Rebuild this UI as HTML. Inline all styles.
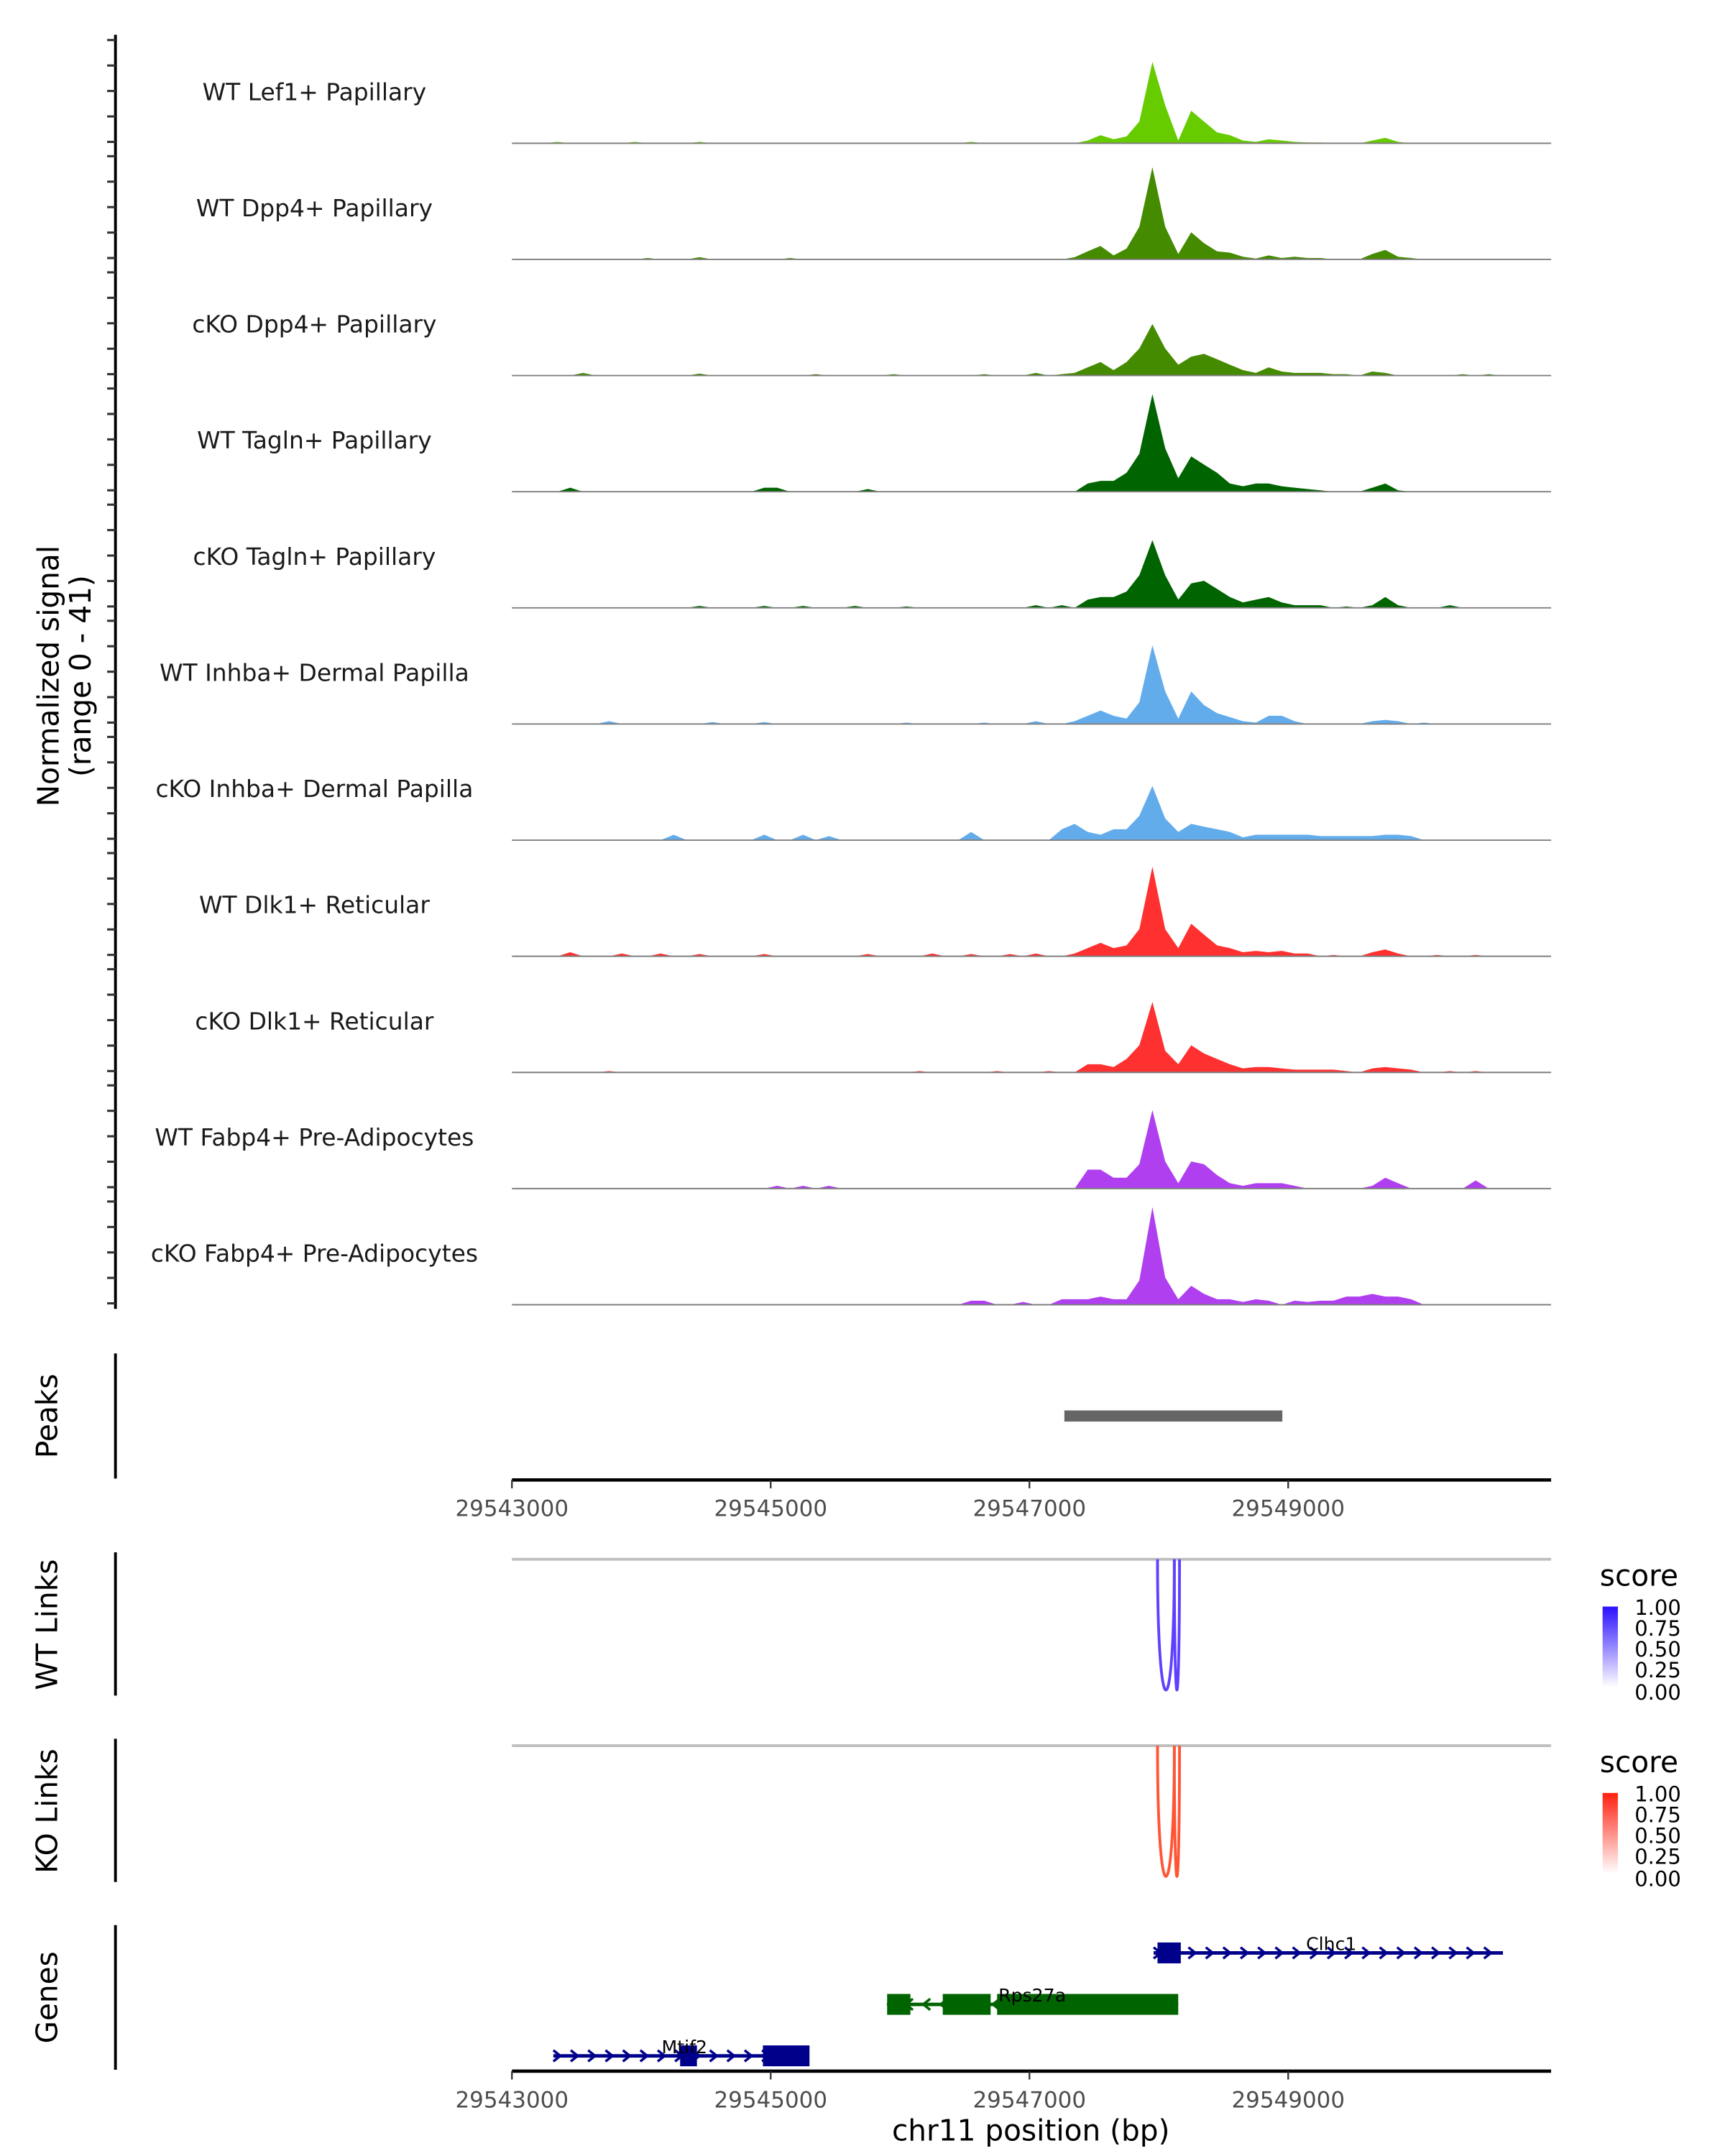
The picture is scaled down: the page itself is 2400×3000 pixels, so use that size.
<!DOCTYPE html>
<html><head><meta charset="utf-8">
<style>
html,body{margin:0;padding:0;background:#fff;}
svg{display:block;font-family:"DejaVu Sans","Liberation Sans",sans-serif;}
</style></head>
<body>
<svg id="chart" width="2400" height="3000" viewBox="0 0 1240 1550" preserveAspectRatio="none" xmlns="http://www.w3.org/2000/svg">
<defs>
<linearGradient id="gb" x1="0" y1="0" x2="0" y2="1"><stop offset="0" stop-color="#2a10ff"/><stop offset="1" stop-color="#ffffff"/></linearGradient>
<linearGradient id="gr" x1="0" y1="0" x2="0" y2="1"><stop offset="0" stop-color="#ff2010"/><stop offset="1" stop-color="#ffffff"/></linearGradient>
</defs>
<g id="tracks"></g>
<line x1="83" y1="25" x2="83" y2="941" stroke="#000" stroke-width="2"/>
<g id="yticks"></g>
<text transform="translate(42,486) rotate(-90)" text-anchor="middle" font-size="21" fill="#000">Normalized signal</text>
<text transform="translate(65,486) rotate(-90)" text-anchor="middle" font-size="21" fill="#000">(range 0 - 41)</text>

<line x1="83" y1="973" x2="83" y2="1063" stroke="#000" stroke-width="2"/>
<text transform="translate(41,1018) rotate(-90)" text-anchor="middle" font-size="21">Peaks</text>
<g id="peaks"></g>
<g id="xaxis1"></g>

<line x1="83" y1="1116" x2="83" y2="1219" stroke="#000" stroke-width="2"/>
<text transform="translate(41,1168) rotate(-90)" text-anchor="middle" font-size="21">WT Links</text>
<line x1="368" y1="1121" x2="1115" y2="1121" stroke="#bebebe" stroke-width="2"/>
<g id="wtlinks"></g>
<g>
<text x="1150" y="1140" font-size="21">score</text>
<rect x="1152" y="1155" width="11" height="58" fill="url(#gb)"/>
<text x="1175" y="1161" font-size="15">1.00</text><text x="1175" y="1176" font-size="15">0.75</text><text x="1175" y="1191" font-size="15">0.50</text><text x="1175" y="1206" font-size="15">0.25</text><text x="1175" y="1222" font-size="15">0.00</text>
</g>

<line x1="83" y1="1250" x2="83" y2="1353" stroke="#000" stroke-width="2"/>
<text transform="translate(41,1302) rotate(-90)" text-anchor="middle" font-size="21">KO Links</text>
<line x1="368" y1="1255" x2="1115" y2="1255" stroke="#bebebe" stroke-width="2"/>
<g id="kolinks"></g>
<g>
<text x="1150" y="1274" font-size="21">score</text>
<rect x="1152" y="1289" width="11" height="58" fill="url(#gr)"/>
<text x="1175" y="1295" font-size="15">1.00</text><text x="1175" y="1310" font-size="15">0.75</text><text x="1175" y="1325" font-size="15">0.50</text><text x="1175" y="1340" font-size="15">0.25</text><text x="1175" y="1356" font-size="15">0.00</text>
</g>

<line x1="83" y1="1384" x2="83" y2="1488" stroke="#000" stroke-width="2"/>
<text transform="translate(41,1436) rotate(-90)" text-anchor="middle" font-size="21">Genes</text>
<g id="genes"></g>
<g id="xaxis2"></g>
<text x="741" y="1539" text-anchor="middle" font-size="21">chr11 position (bp)</text>
</svg>
<script>
var trackNames = ["WT Lef1+ Papillary","WT Dpp4+ Papillary","cKO Dpp4+ Papillary","WT Tagln+ Papillary","cKO Tagln+ Papillary","WT Inhba+ Dermal Papilla","cKO Inhba+ Dermal Papilla","WT Dlk1+ Reticular","cKO Dlk1+ Reticular","WT Fabp4+ Pre-Adipocytes","cKO Fabp4+ Pre-Adipocytes"];
var trackColors = ["#66cc00","#458b00","#458b00","#006400","#006400","#63acec","#63acec","#ff3030","#ff3030","#b03ff0","#b03ff0"];
var binStart = 29543000;
var binSize = 100;
var sigLef1 = [[3,0.5],[9,0.5],[14,0.5],[35,0.5],[44,1],[45,3],[46,1.5],[47,2.5],[48,8],[49,30],[50,14],[51,1],[52,12],[53,8],[54,4],[55,3],[56,1],[57,0.5],[58,1.5],[59,1],[60,0.5],[61,0.3],[62,0.3],[66,1],[67,2],[68,0.5]];
var sigDpp4WT = [[10,0.5],[14,0.8],[21,0.5],[43,0.8],[44,3],[45,5],[46,1.5],[47,4],[48,12],[49,34],[50,12],[51,2],[52,10],[53,6],[54,3],[55,2.5],[56,1],[57,0.3],[58,1.5],[59,0.5],[60,1],[61,0.5],[62,0.5],[66,2],[67,3.5],[68,1],[69,0.5]];
var sigDpp4KO = [[5,1],[14,0.7],[23,0.5],[29,0.5],[36,0.5],[40,1],[42,0.5],[43,1],[44,3],[45,5],[46,2],[47,5],[48,10],[49,19],[50,10],[51,4],[52,7],[53,8],[54,6],[55,4],[56,2],[57,1],[58,3],[59,1.5],[60,1],[61,1],[62,1],[63,0.5],[64,0.5],[66,1.5],[67,1],[73,0.5],[75,0.5]];
var sigTaglnWT = [[4,1.5],[19,1.5],[20,1.5],[27,1],[44,3],[45,4],[46,4],[47,7],[48,14],[49,36],[50,16],[51,5],[52,13],[53,10],[54,7],[55,3],[56,2],[57,3],[58,3],[59,2],[60,1.5],[61,1],[62,0.5],[66,1.5],[67,3],[68,0.5]];
var sigTaglnKO = [[14,0.7],[19,0.7],[22,0.7],[26,0.7],[30,0.5],[40,1],[42,1],[44,3],[45,4],[46,4],[47,6],[48,12],[49,25],[50,12],[51,3],[52,9],[53,10],[54,7],[55,4],[56,2],[57,3],[58,4],[59,2],[60,1],[61,1],[62,1],[64,0.5],[66,1],[67,4],[68,1],[72,1]];
var sigInhbaWT = [[7,1],[15,0.7],[19,0.7],[30,0.5],[36,0.5],[40,1],[43,1],[44,3],[45,5],[46,3],[47,2],[48,8],[49,29],[50,12],[51,2],[52,12],[53,7],[54,4],[55,2.5],[56,1],[57,0.5],[58,3],[59,3],[60,1],[66,1],[67,1.5],[68,1],[70,0.5]];
var sigInhbaKO = [[12,2],[19,2],[22,2],[24,1.5],[35,3],[42,4],[43,6],[44,3],[45,2],[46,4],[47,4],[48,9],[49,20],[50,8],[51,3],[52,6],[53,5],[54,4],[55,3],[56,1],[57,2],[58,2],[59,2],[60,2],[61,2],[62,1.5],[63,1.5],[64,1.5],[65,1.5],[66,1.5],[67,2],[68,2],[69,1.5]];
var sigDlk1WT = [[4,1.5],[8,1],[11,1],[14,0.8],[19,0.8],[27,0.8],[32,1],[35,0.8],[38,0.8],[40,1],[43,1],[44,3],[45,5],[46,3],[47,4],[48,10],[49,33],[50,10],[51,3],[52,12],[53,8],[54,4],[55,3],[56,1.5],[57,2],[58,1.5],[59,2],[60,1],[61,1],[63,0.5],[66,1.5],[67,2.5],[68,1],[71,0.5],[74,0.5]];
var sigDlk1KO = [[7,0.5],[31,0.5],[37,0.5],[41,0.5],[44,3],[45,3],[46,2],[47,5],[48,10],[49,26],[50,8],[51,3],[52,10],[53,7],[54,5],[55,3],[56,1.5],[57,2],[58,2],[59,1.5],[60,1],[61,1],[62,1],[63,1],[64,0.5],[66,1.5],[67,2],[68,1.5],[69,1],[72,0.5],[74,0.5]];
var sigFabp4WT = [[20,1],[22,1],[24,1],[44,7],[45,7],[46,4],[47,4],[48,9],[49,29],[50,10],[51,2],[52,10],[53,9],[54,5],[55,2],[56,1],[57,2],[58,2],[59,2],[60,1],[66,1],[67,4],[68,2],[74,3]];
var sigFabp4KO = [[35,1.5],[36,1.5],[39,1],[42,2],[43,2],[44,2],[45,3],[46,2],[47,2],[48,9],[49,36],[50,10],[51,2],[52,7],[53,4],[54,2],[55,2],[56,1],[57,2],[58,1.5],[60,1.5],[61,1],[62,1.5],[63,1.5],[64,3],[65,3],[66,4],[67,3],[68,3],[69,2]];
var trackSignals = [sigLef1,sigDpp4WT,sigDpp4KO,sigTaglnWT,sigTaglnKO,sigInhbaWT,sigInhbaKO,sigDlk1WT,sigDlk1KO,sigFabp4WT,sigFabp4KO];
var xTickValues = [29543000,29545000,29547000,29549000];
var peakRegions = [[29547270,29548955]];
var wtLinks = [[29547990,29548120],[29548120,29548160]];
var koLinks = [[29547990,29548120],[29548120,29548160]];
var genes = [
 {name:"Clhc1",start:29547960,end:29550660,strand:1,row:0,color:"#00008b",exons:[[29547990,29548170]],lx:957},
 {name:"Rps27a",start:29545900,end:29548150,strand:-1,row:1,color:"#006400",exons:[[29545900,29546080],[29546330,29546700],[29546750,29548150]],lx:742},
 {name:"Mtif2",start:29543320,end:29545220,strand:1,row:2,color:"#00008b",exons:[[29544300,29544430],[29544940,29545300]],lx:492}
];
var NS="http://www.w3.org/2000/svg";
function xs(bp){return 368+(bp-29543000)*0.093;}
function ys(v,base){return base-v*1.95;}
function mk(tag,attrs,parent){var e=document.createElementNS(NS,tag);for(var k in attrs)e.setAttribute(k,attrs[k]);parent.appendChild(e);return e;}
var tg=document.getElementById('tracks');
var yt=document.getElementById('yticks');
var nb=80;
trackSignals.forEach(function(sig,t){
  var base=103+t*83.5;
  var vals=new Array(nb).fill(0);
  sig.forEach(function(p){vals[p[0]]=p[1];});
  var d="M"+xs(binStart)+","+base;
  for(var i=0;i<nb;i++){d+=" L"+xs(binStart+i*binSize+binSize/2).toFixed(1)+","+ys(vals[i],base).toFixed(1);}
  d+=" L"+xs(binStart+nb*binSize)+","+base+" Z";
  var p=mk('path',{d:d,fill:trackColors[t]},tg);
  
  
  var l=mk('line',{x1:368,x2:1115,y1:base,y2:base,stroke:'#7f7f7f','stroke-width':1},tg);
  
  
  var tx=mk('text',{x:226,y:base-31,'text-anchor':'middle','font-size':17,fill:'#1a1a1a'},tg);
  tx.textContent=trackNames[t];
  
  
  for(var k=0;k<5;k++){
    var tk=mk('line',{x1:77,x2:83,y1:base-1-k*18.3,y2:base-1-k*18.3,stroke:'#333','stroke-width':1.6},yt);
    
    
  }
});
var pk=document.getElementById('peaks');
peakRegions.forEach(function(r){
  var e=mk('rect',{x:xs(r[0]),y:1014,width:xs(r[1])-xs(r[0]),height:8,fill:'#666'},pk);
  
  
});
function axis(id,y){
  var g=document.getElementById(id);
  mk('line',{x1:368,x2:1115,y1:y,y2:y,stroke:'#000','stroke-width':2.4},g);
  xTickValues.forEach(function(v){
    mk('line',{x1:xs(v),x2:xs(v),y1:y,y2:y+6,stroke:'#333','stroke-width':1.2},g);
    var t=mk('text',{x:xs(v),y:y+26,'text-anchor':'middle','font-size':16,fill:'#4d4d4d'},g);
    t.textContent=v;
    
    
  });
}
axis('xaxis1',1064);
axis('xaxis2',1489);
function links(id,arr,base,col){
  var g=document.getElementById(id);
  arr.forEach(function(a){
    var x1=xs(a[0]),x2=xs(a[1]),dep=94*4/3;
    var e=mk('path',{d:'M'+x1+','+base+' C'+x1+','+(base+dep)+' '+x2+','+(base+dep)+' '+x2+','+base,fill:'none',stroke:col,'stroke-width':2},g);
    
    
  });
}
links('wtlinks',wtLinks,1121,'#6040ff');
links('kolinks',koLinks,1255,'#ff5535');
var gg=document.getElementById('genes');
genes.forEach(function(g){
  var y=1404+g.row*37;
  var grp=mk('g',{},gg);
  
  
  mk('line',{x1:xs(g.start),x2:xs(g.end),y1:y,y2:y,stroke:g.color,'stroke-width':2.5},grp);
  for(var x=xs(g.start)+3;x<xs(g.end);x+=12.5){
    var s=g.strand;
    mk('path',{d:'M'+(x-3*s)+','+(y-4)+' L'+(x+2*s)+','+y+' L'+(x-3*s)+','+(y+4),fill:'none',stroke:g.color,'stroke-width':1.8},grp);
  }
  g.exons.forEach(function(e){mk('rect',{x:xs(e[0]),y:y-7.5,width:xs(e[1])-xs(e[0]),height:15,fill:g.color},grp);});
  var t=mk('text',{x:g.lx,y:y-2,'text-anchor':'middle','font-size':13,fill:'#000'},grp);
  t.textContent=g.name;
});
</script>
</body></html>
